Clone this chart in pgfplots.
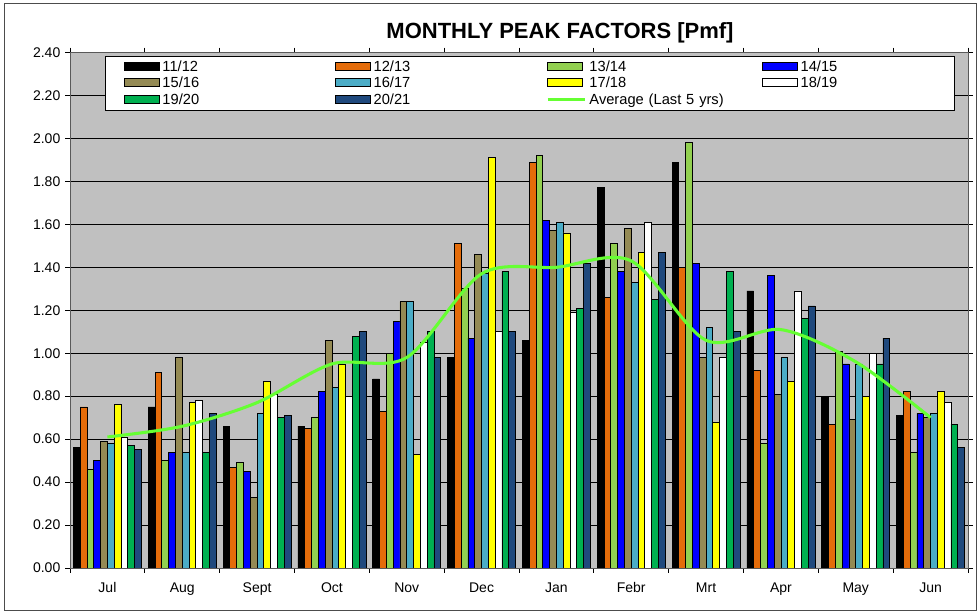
\documentclass[border=0pt]{standalone}
\usepackage{fontspec}
\setmainfont{Liberation Sans}
\usepackage{pgfplots}
\pgfplotsset{compat=1.18}
\usepackage{pgfplotstable}

\definecolor{plotgray}{RGB}{192,192,192}
\definecolor{cA}{RGB}{0,0,0}
\definecolor{cB}{RGB}{228,108,10}
\definecolor{cC}{RGB}{146,208,80}
\definecolor{cD}{RGB}{0,0,255}
\definecolor{cE}{RGB}{148,138,84}
\definecolor{cF}{RGB}{75,172,198}
\definecolor{cG}{RGB}{255,255,0}
\definecolor{cH}{RGB}{255,255,255}
\definecolor{cI}{RGB}{0,176,80}
\definecolor{cJ}{RGB}{31,73,125}
\definecolor{avggreen}{RGB}{102,255,51}

\pgfplotstableread{
x  s1   s2   s3   s4   s5   s6   s7   s8   s9   s10  avg
0  0.56 0.75 0.46 0.50 0.59 0.58 0.76 0.61 0.57 0.55 0.61
1  0.75 0.91 0.50 0.54 0.98 0.54 0.77 0.78 0.54 0.72 0.66
2  0.66 0.47 0.49 0.45 0.33 0.72 0.87 0.81 0.70 0.71 0.77
3  0.66 0.65 0.70 0.82 1.06 0.84 0.95 0.80 1.08 1.10 0.95
4  0.88 0.73 1.00 1.15 1.24 1.24 0.53 1.05 1.10 0.98 0.98
5  0.98 1.51 1.30 1.07 1.46 1.37 1.91 1.10 1.38 1.10 1.37
6  1.06 1.89 1.92 1.62 1.57 1.61 1.56 1.19 1.21 1.42 1.40
7  1.77 1.26 1.51 1.38 1.58 1.33 1.47 1.61 1.25 1.47 1.43
8  1.89 1.40 1.98 1.42 0.98 1.12 0.68 0.98 1.38 1.10 1.06
9  1.29 0.92 0.58 1.36 0.81 0.98 0.87 1.29 1.16 1.22 1.11
10 0.80 0.67 1.01 0.95 0.69 0.95 0.80 1.00 0.95 1.07 0.96
11 0.71 0.82 0.54 0.72 0.70 0.72 0.82 0.77 0.67 0.56 0.70
}\peakdata

\pgfplotsset{
  barstyle/.style={ybar, bar width=0.0909, draw=black, line width=0.6pt, fill=#1,
    legend image code/.code={\draw[##1, line width=0.6pt] (0pt,-2.1pt) rectangle (26.25pt,3.9pt);}},
  avgstyle/.style={smooth, color=avggreen, line width=2.3pt,
    legend image code/.code={\draw[##1] (0pt,0.9pt) -- (28pt,0.9pt);}},
}

\begin{document}
\begin{tikzpicture}
\useasboundingbox (0,0) rectangle (734.25pt,460.5pt);
\draw[black!70, line width=0.6pt] (3pt,3pt) rectangle (732pt,458.25pt);
\node[font=\fontsize{16.5}{20}\selectfont\bfseries] at (420pt,436.2pt) {MONTHLY PEAK FACTORS [Pmf]};
\begin{axis}[
  at={(52.5pt,34.5pt)}, anchor=south west,
  scale only axis, width=673.5pt, height=386.6pt,
  xmin=-0.5, xmax=11.5, ymin=0, ymax=2.4,
  axis background/.style={fill=plotgray},
  axis line style={black!65, line width=0.6pt},
  ymajorgrids, major grid style={black, line width=0.6pt},
  ytick={0,0.2,0.4,0.6,0.8,1.0,1.2,1.4,1.6,1.8,2.0,2.2,2.4},
  yticklabel style={/pgf/number format/.cd, fixed, fixed zerofill, precision=2, assume math mode=true},
  ticklabel style={font=\fontsize{10.5}{12}\selectfont},
  xtick={-0.5,0.5,...,11.5}, xticklabels={,,,,,,,,,,,,},
  extra x ticks={0,1,2,3,4,5,6,7,8,9,10,11},
  extra x tick labels={Jul,Aug,Sept,Oct,Nov,Dec,Jan,Febr,Mrt,Apr,May,Jun},
  extra x tick style={major tick length=0pt, xmajorgrids=false, xticklabel style={yshift=-7.5pt}},
  tick align=outside, major tick length=3.75pt,
  tick style={black, line width=0.6pt},
  legend columns=4, legend cell align=left,
  legend style={at={(0.0595,0.9853)}, anchor=north west, draw=none, fill=none,
    inner sep=0pt, row sep=2.45pt, font=\fontsize{11}{13}\selectfont,
    nodes={inner sep=0pt, text width=129.3pt, text height=8pt, text depth=2.2pt, align=left},
    /tikz/every odd column/.append style={column sep=2.25pt}},
]
\draw[black, fill=white, line width=0.75pt] (rel axis cs:0.039,0.8885) rectangle (rel axis cs:0.9855,0.9932);
\addplot[barstyle=cA, bar shift=-0.4091] table[x=x,y=s1]{\peakdata};
\addlegendentry{11/12}
\addplot[barstyle=cB, bar shift=-0.3182] table[x=x,y=s2]{\peakdata};
\addlegendentry{12/13}
\addplot[barstyle=cC, bar shift=-0.2273] table[x=x,y=s3]{\peakdata};
\addlegendentry{13/14}
\addplot[barstyle=cD, bar shift=-0.1364] table[x=x,y=s4]{\peakdata};
\addlegendentry{14/15}
\addplot[barstyle=cE, bar shift=-0.0455] table[x=x,y=s5]{\peakdata};
\addlegendentry{15/16}
\addplot[barstyle=cF, bar shift=0.0455] table[x=x,y=s6]{\peakdata};
\addlegendentry{16/17}
\addplot[barstyle=cG, bar shift=0.1364] table[x=x,y=s7]{\peakdata};
\addlegendentry{17/18}
\addplot[barstyle=cH, bar shift=0.2273] table[x=x,y=s8]{\peakdata};
\addlegendentry{18/19}
\addplot[barstyle=cI, bar shift=0.3182] table[x=x,y=s9]{\peakdata};
\addlegendentry{19/20}
\addplot[barstyle=cJ, bar shift=0.4091] table[x=x,y=s10]{\peakdata};
\addlegendentry{20/21}
\addplot[avgstyle] table[x=x,y=avg]{\peakdata};
\addlegendentry{Average (Last 5 yrs)}
\end{axis}
\end{tikzpicture}
\end{document}
